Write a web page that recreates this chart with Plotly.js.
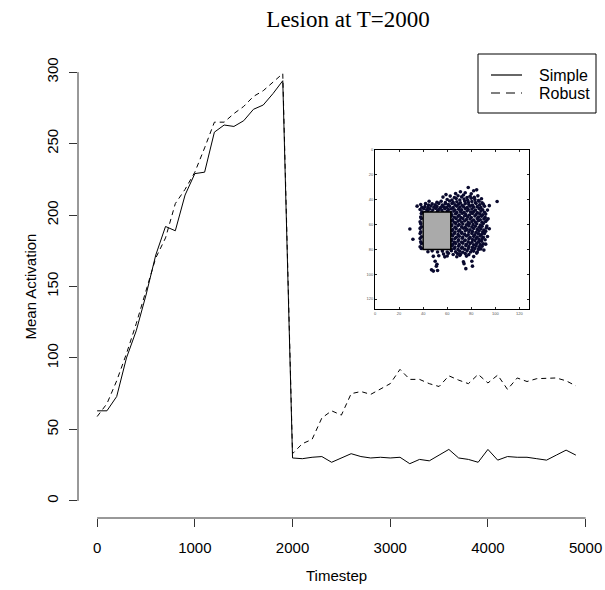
<!DOCTYPE html>
<html>
<head>
<meta charset="utf-8">
<script src="https://cdn.plot.ly/plotly-3.0.1.min.js"></script>
<style>
  html, body { margin: 0; padding: 0; background: #ffffff; }
  #chart { width: 605px; height: 590px; }
</style>
</head>
<body>
<div id="chart"></div>
<script>
// ---- Data ----
const timestep = [0,100,200,300,400,500,600,700,800,900,
  1000,1100,1200,1300,1400,1500,1600,1700,1800,1900,
  2000,2100,2200,2300,2400,2500,2600,2700,2800,2900,
  3000,3100,3200,3300,3400,3500,3600,3700,3800,3900,
  4000,4100,4200,4300,4400,4500,4600,4700,4800,4900];

const simple = [63,63,73,100,119,144,172,192,189,214,
  229,230,258,263,262,266,274,277,285,294,
  30,29.5,30.5,31,27,30,33,31,30,30.5,
  30,30.5,26,29,28,32,36,30,29,27,
  36,28.5,31,30.5,30.5,29.5,28.5,32,35.5,32];

const robust = [59,68,84,103,124,147,170,184,208,218,
  230,247,265,265,271,276,283,287,293,299,
  33,40,43,58,63,60,75,76.5,74.5,78,
  82,92,85,85,82,80,87.5,84.5,82,88.5,
  82.5,88,78,86,83.5,85.5,86,86,84,80.5];

const seriesNames = ["Simple", "Robust"];
const xTicks = [0,1000,2000,3000,4000,5000];
const yTicks = [0,50,100,150,200,250,300];
const insetTicks = [0,20,40,60,80,100,120];

// Inset: lesioned map, activity cloud (x, y in map units, y downward)
const lesionCloud = [
  [77.5,30.2],[82,32.8],[84.5,32.1],[75,34.4],[71,33.6],
  [59,35.9],[67,35.1],[73.5,36.2],[80,35.3],
  [56.5,37.9],[62.5,37.1],[66,38.2],[69,36.8],[72,37.7],[76.5,38.3],[79,37.2],[82.5,38.1],[85.5,36.9],
  [60,39.8],[64,40.3],[67.5,39.1],[70.5,40.2],[74,39.4],[77,40.4],[80,38.9],[83,39.9],[86,40.6],[88.5,39.2],
  [45,41.2],[51.5,42.1],[55,41.3],[58.5,42.4],[62,41.0],[65,42.2],[68,41.6],[71,42.5],[74.5,41.1],[77.5,42.0],[80.5,41.4],[83.5,42.3],[86.5,41.2],[89,42.6],[101.5,41.5],
  [38,43.9],[42,43.2],[44.5,44.3],[47.5,43.4],[50,44.1],[53,43.0],[56,44.4],[58.5,43.3],[61,44.0],[64,43.1],[66.5,44.2],[69.5,43.6],[72.5,44.5],[75,43.2],[78,43.9],[81,44.4],[84,43.1],[87,44.2],[90,43.6],[95,44.8],
  [35,45.2],[39,46.1],[41.5,45.6],[44,46.4],[46.5,45.1],[49,46.0],[51.5,45.4],[54.5,46.3],[57,45.7],[59.5,46.2],[62,45.3],[65,46.4],[68,45.2],[70.5,46.1],[73.5,45.5],[76.5,46.3],[79,45.2],[82,46.0],[85,45.6],[88,46.4],[91,45.3],
  [37.5,47.9],[40.5,47.2],[43,48.1],[45.5,47.4],[48,48.3],[50.5,47.0],[53,47.8],[55.5,48.4],[58,47.2],[61,48.0],[63.5,47.3],[66.5,48.4],[69.5,47.6],[72,48.2],[75,47.1],[77.5,48.0],[80.5,47.5],[83.5,48.3],[86.5,47.2],[89.5,48.1],[93.5,48.4],
  [39,49.7],[41.5,50.3],[44,49.2],[47,50.1],[52,49.4],[56.5,50.2],[60,49.3],[63,50.1],[65.5,49.2],[68,50.4],[71,49.5],[74,50.2],[76.5,49.1],[79.5,50.0],[82,49.6],[85,50.3],[88,49.2],[91,50.1],
  [38.5,51.2],[64,52.1],[67,51.3],[70,52.4],[72.5,51.0],[75.5,51.9],[78.5,52.3],[81,51.1],[84,52.0],[87,51.4],[89.5,52.2],[92,51.6],
  [38,53.9],[63.5,53.2],[66,54.1],[69,53.4],[71.5,54.3],[74.5,53.0],[77,53.8],[80,54.4],[83,53.1],[86,53.9],[88.5,53.3],[91.5,54.2],[94,55.3],
  [38.5,55.2],[64.5,56.1],[67.5,55.4],[70.5,56.2],[73,55.1],[76,56.0],[79,55.6],[82,56.3],[85,55.2],[87.5,56.1],[90.5,55.5],[93,56.4],
  [37.5,57.8],[63.5,57.1],[66,58.2],[69,57.4],[72,58.0],[74.5,57.2],[77.5,58.3],[80.5,57.5],[83.5,58.1],[86,57.0],[89,58.2],[92,57.6],
  [38,59.3],[64,60.2],[67,59.1],[70,60.0],[73,59.6],[76,60.3],[78.5,59.2],[81.5,60.1],[84.5,59.4],[87.5,60.4],[90,59.1],[93,61.2],
  [38.5,61.8],[63.5,61.2],[66.5,62.1],[69,61.0],[72,61.9],[75,62.3],[78,61.1],[80.5,62.0],[83.5,61.4],[86.5,62.2],[89,61.3],[92.5,62.7],[95,63.4],
  [29,63.6],[37.5,63.1],[64.5,64.0],[67.5,63.3],[70.5,64.2],[73.5,63.0],[76.5,63.9],[79,64.3],[82,63.2],[85,64.1],[88,63.5],[90.5,64.4],
  [38,65.9],[64,65.2],[66.5,66.1],[69.5,65.4],[72,66.2],[75,65.1],[78,66.0],[81,65.6],[84,66.3],[86.5,65.2],[89.5,66.1],[92,65.5],
  [37.5,67.2],[63.5,68.1],[66,67.3],[69,68.0],[72,67.1],[74.5,67.9],[77.5,68.3],[80.5,67.2],[83,68.2],[86,67.4],[88.5,68.1],[91,67.3],[93.5,69.6],
  [38.5,69.8],[64.5,69.1],[67.5,70.2],[70,69.4],[73,70.1],[76,69.2],[79,70.3],[82,69.5],[85,70.0],[87.5,69.2],[90,70.2],
  [31.5,71.8],[37.5,71.2],[64,72.0],[66.5,71.3],[69.5,72.2],[72.5,71.1],[75,72.4],[78,71.5],[81,72.1],[84,71.2],[86.5,72.0],[89,71.4],[91.5,72.3],
  [38,73.9],[63.5,73.2],[66,74.1],[69,73.4],[72,74.2],[74.5,73.0],[77.5,73.9],[80.5,74.3],[83,73.1],[86,74.0],[88.5,73.5],[92,75.8],
  [38.5,75.2],[64.5,76.0],[67,75.3],[70,76.2],[73,75.1],[76,75.9],[79,75.4],[82,76.3],[84.5,75.2],[87.5,76.1],[90,75.6],
  [37.5,77.9],[64,77.2],[66.5,78.1],[69.5,77.4],[72.5,78.2],[75.5,77.0],[78,77.8],[81,78.3],[84,77.2],[86.5,78.0],[89,77.5],
  [38.5,79.2],[63.5,80.0],[66,79.3],[69,80.2],[72,79.1],[74.5,79.9],[77.5,79.4],[80.5,80.3],[83,79.2],[86,80.0],[88,79.6],[90.5,80.6],
  [44,81.9],[47.5,81.2],[52,82.1],[56,81.4],[60,82.2],[63.5,81.1],[67,82.0],[70.5,81.5],[73,82.3],[76.5,81.2],[79.5,82.1],[82,81.4],[85,82.2],
  [57,83.8],[61,83.2],[65,84.1],[68.5,83.3],[71,84.0],[75,83.4],[78,84.2],[84.5,83],
  [48.5,85.6],[53,85.1],[58,86.0],[60,85.3],[68,85.9],[70.5,84.8],[76,85.4],[82,85.8],
  [50,89.5],[73.5,90],[80.5,89.5],[51.5,92],[74,91.5],[51,93.5],[81,93.5],[75.5,95.5],[47,96.5],[48.5,97.5],[52,97]
];
const lesionBox = {x0: 40, x1: 63, y0: 50, y1: 80};

// ---- Plot geometry helpers (plot area in px: left 78, right 595, top 55, bottom 518) ----
const PL = 78, PR = 595, PT = 55, PB = 518;
const px2x = px => (px - PL) / (PR - PL);
const px2y = py => (PB - py) / (PB - PT);

const FONT = "Liberation Sans, Arial, Helvetica, sans-serif";
const dashes = ["solid", "5px,4px"];

const traces = [
  {
    x: timestep, y: simple, name: seriesNames[0], type: "scatter", mode: "lines",
    line: {color: "#000000", width: 1, dash: dashes[0]}, xaxis: "x", yaxis: "y", showlegend: false
  },
  {
    x: timestep, y: robust, name: seriesNames[1], type: "scatter", mode: "lines",
    line: {color: "#000000", width: 1, dash: dashes[1]}, xaxis: "x", yaxis: "y", showlegend: false
  },
  {
    x: lesionCloud.map(p => p[0]), y: lesionCloud.map(p => p[1]),
    type: "scatter", mode: "markers", showlegend: false, hoverinfo: "skip",
    marker: {color: "#0a0a2e", size: 3.6, line: {width: 0}},
    xaxis: "x2", yaxis: "y2"
  }
];

// manual R-style legend
const legendShapes = [
  {type: "rect", xref: "paper", yref: "paper", x0: px2x(478), x1: px2x(596), y0: px2y(113), y1: px2y(54),
   fillcolor: "#ffffff", line: {color: "#000000", width: 1}, layer: "above"},
  {type: "line", xref: "paper", yref: "paper", x0: px2x(491), x1: px2x(522), y0: px2y(75), y1: px2y(75),
   line: {color: "#000000", width: 1.2, dash: "solid"}, layer: "above"},
  {type: "line", xref: "paper", yref: "paper", x0: px2x(491), x1: px2x(522), y0: px2y(93), y1: px2y(93),
   line: {color: "#000000", width: 1.2, dash: "9px,6px"}, layer: "above"}
];
const legendTexts = seriesNames.map((name, i) => ({
  text: name, xref: "paper", yref: "paper", x: px2x(537), y: px2y(i === 0 ? 75 : 93),
  xanchor: "left", yanchor: "middle", showarrow: false,
  font: {family: FONT, size: 16, color: "#000000"}
}));

const layout = {
  width: 605, height: 590,
  margin: {l: PL, r: 605 - PR, t: PT, b: 590 - PB, pad: 0},
  paper_bgcolor: "#ffffff", plot_bgcolor: "#ffffff",
  font: {family: FONT, size: 15, color: "#000000"},
  title: {
    text: "Lesion at T=2000",
    font: {family: "Liberation Serif, Times New Roman, serif", size: 23, color: "#000000"},
    x: 348/605, xref: "container", xanchor: "center",
    y: 1 - 19/590, yref: "container", yanchor: "middle"
  },
  showlegend: false,
  xaxis: {
    range: [-196, 5096], tickvals: xTicks, ticktext: xTicks.map(String),
    ticks: "outside", ticklen: 8, tickwidth: 1, tickcolor: "#333333",
    showline: false, showgrid: false, zeroline: false,
    tickfont: {family: FONT, size: 15, color: "#000000"},
    ticklabelstandoff: 8, domain: [0, 1], anchor: "y"
  },
  yaxis: {
    range: [-12, 312], tickvals: yTicks, ticktext: yTicks.map(String),
    tickangle: -90,
    ticks: "outside", ticklen: 8, tickwidth: 1, tickcolor: "#333333",
    showline: false, showgrid: false, zeroline: false,
    tickfont: {family: FONT, size: 15, color: "#000000"},
    ticklabelstandoff: 5, domain: [0, 1], anchor: "x"
  },
  xaxis2: {
    domain: [px2x(375), px2x(529)], anchor: "y2", range: [0, 128],
    tickvals: insetTicks, ticks: "inside", ticklen: 2, tickcolor: "#222222",
    showline: true, linecolor: "#000000", linewidth: 1, mirror: "ticks",
    showgrid: false, zeroline: false,
    tickfont: {family: FONT, size: 4, color: "#555555"}
  },
  yaxis2: {
    domain: [px2y(309), px2y(150)], anchor: "x2", range: [128, 0],
    tickvals: insetTicks, ticks: "inside", ticklen: 2, tickcolor: "#222222",
    showline: true, linecolor: "#000000", linewidth: 1, mirror: "ticks",
    showgrid: false, zeroline: false,
    tickfont: {family: FONT, size: 4, color: "#555555"}
  },
  shapes: [
    {type: "line", xref: "x", yref: "paper", x0: xTicks[0], x1: xTicks[xTicks.length-1], y0: 0, y1: 0,
     line: {color: "#333333", width: 1}},
    {type: "line", xref: "paper", yref: "y", x0: 0, x1: 0, y0: yTicks[0], y1: yTicks[yTicks.length-1],
     line: {color: "#333333", width: 1}},
    {type: "rect", xref: "x2", yref: "y2", x0: lesionBox.x0, x1: lesionBox.x1, y0: lesionBox.y0, y1: lesionBox.y1,
     fillcolor: "#aaaaaa", line: {color: "#000000", width: 1.5}, layer: "above"}
  ].concat(legendShapes),
  annotations: [
    {text: "Timestep", xref: "paper", yref: "paper", x: 0.5, y: px2y(575),
     xanchor: "center", yanchor: "middle", showarrow: false,
     font: {family: FONT, size: 15, color: "#000000"}},
    {text: "Mean Activation", xref: "paper", yref: "paper", x: px2x(30), y: 0.5,
     textangle: -90, xanchor: "center", yanchor: "middle", showarrow: false,
     font: {family: FONT, size: 15, color: "#000000"}}
  ].concat(legendTexts)
};

Plotly.newPlot("chart", traces, layout, {displayModeBar: false, staticPlot: true});
</script>
</body>
</html>
